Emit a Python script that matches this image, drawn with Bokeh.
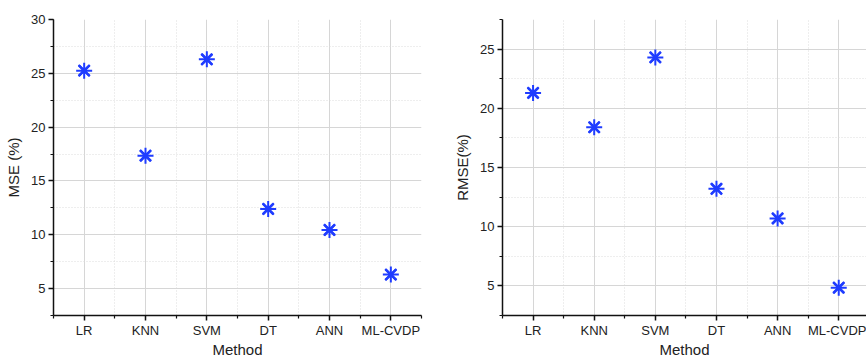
from bokeh.plotting import figure
from bokeh.models import FixedTicker, SingleIntervalTicker, Range1d, ColumnDataSource
from bokeh.layouts import row
from bokeh.embed import file_html
from bokeh.resources import INLINE

methods = ["LR", "KNN", "SVM", "DT", "ANN", "ML-CVDP"]
mse = [25.25, 17.35, 26.3, 12.4, 10.45, 6.3]
rmse = [21.3, 18.4, 24.3, 13.2, 10.7, 4.85]
y_ticks_major = 5
mse_range = (2.5, 30)
rmse_range = (2.5, 27.5)

FONT = "Liberation Sans"
BLUE = "#1f3cff"
TEXT = "#222222"

xs = list(range(1, len(methods) + 1))
minor_x = [i - 0.5 for i in xs] + [xs[-1] + 0.5]


def make_fig(values, ylabel, yrange, width, mbl, mbr, x_end):
    p = figure(width=width, height=360, output_backend="svg", toolbar_location=None,
               x_range=Range1d(0.5, x_end), y_range=Range1d(*yrange),
               min_border_left=mbl, min_border_right=mbr, min_border_top=19,
               min_border_bottom=45)
    p.outline_line_color = None
    p.background_fill_color = "white"
    p.border_fill_color = "white"

    src = ColumnDataSource(dict(x=xs, y=values))
    p.scatter("x", "y", source=src, marker="x", size=15, line_color=BLUE, line_width=2.6)
    p.scatter("x", "y", source=src, marker="asterisk", size=16, line_color=BLUE, line_width=2.0)

    p.xaxis.ticker = FixedTicker(ticks=xs, minor_ticks=minor_x)
    p.xaxis.major_label_overrides = {x: m for x, m in zip(xs, methods)}
    p.yaxis.ticker = SingleIntervalTicker(interval=y_ticks_major, num_minor_ticks=2)

    for ax in (p.xaxis[0], p.yaxis[0]):
        ax.axis_line_color = "#111111"
        ax.axis_line_width = 1.5
        ax.major_tick_line_color = "#111111"
        ax.major_tick_line_width = 1.5
        ax.minor_tick_line_color = "#111111"
        ax.minor_tick_line_width = 1.2
        ax.major_tick_out = 5
        ax.major_tick_in = 0
        ax.minor_tick_out = 3
        ax.minor_tick_in = 0
        ax.major_label_text_font = FONT
        ax.major_label_text_font_size = "13px"
        ax.major_label_text_color = TEXT
        ax.axis_label_text_font = FONT
        ax.axis_label_text_font_size = "15px"
        ax.axis_label_text_font_style = "normal"
        ax.axis_label_text_color = TEXT
    p.xaxis.major_label_standoff = 2
    p.xaxis.axis_label_standoff = 0
    p.yaxis.major_label_standoff = 3
    p.yaxis.axis_label_standoff = 6
    p.xaxis.axis_label = "Method"
    p.yaxis.axis_label = ylabel

    for g in (p.xgrid[0], p.ygrid[0]):
        g.grid_line_color = "#d6d6d6"
        g.grid_line_width = 1
        g.minor_grid_line_color = "#dcdcdc"
        g.minor_grid_line_width = 1
        g.minor_grid_line_dash = "1 2"
    return p


p1 = make_fig(mse, "MSE (%)", mse_range, 440, 53, 19, 6.5)
p2 = make_fig(rmse, "RMSE(%)", rmse_range, 426, 62, 0, 6.5 - 2.8 / 61.1)
layout = row(p1, p2)

open("out.html", "w").write(file_html(layout, INLINE))
